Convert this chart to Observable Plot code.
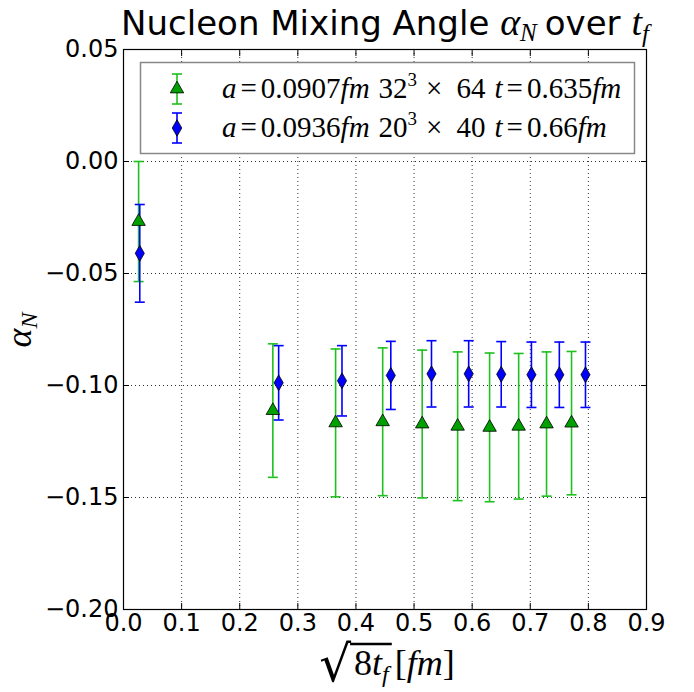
<!DOCTYPE html>
<html>
<head>
<meta charset="utf-8">
<script src="https://cdn.jsdelivr.net/npm/d3@7"></script>
<script src="https://cdn.jsdelivr.net/npm/@observablehq/plot@0.6"></script>
<style>
  html, body { margin: 0; padding: 0; background: #fff; }
  #chart { width: 694px; height: 692px; }
</style>
</head>
<body>
<div id="chart"></div>
<script>
// ---- data ----
const seriesNames = ["a=0.0907 fm 32³×64 t=0.635 fm", "a=0.0936 fm 20³×40 t=0.66 fm"];

const greenX   = [0.026, 0.257, 0.365, 0.446, 0.514, 0.575, 0.630, 0.680, 0.728, 0.771];
const greenY   = [-0.0268, -0.1112, -0.1167, -0.1162, -0.1172, -0.1182, -0.1187, -0.1182, -0.1172, -0.1168];
const greenErr = [0.0268, 0.0298, 0.0330, 0.0330, 0.0330, 0.0332, 0.0332, 0.0325, 0.0322, 0.0320];

const blueX   = [0.028, 0.267, 0.376, 0.460, 0.530, 0.594, 0.650, 0.702, 0.750, 0.795];
const blueY   = [-0.0410, -0.0988, -0.0979, -0.0955, -0.0948, -0.0948, -0.0950, -0.0952, -0.0952, -0.0952];
const blueErr = [0.0218, 0.0166, 0.0157, 0.0152, 0.0148, 0.0148, 0.0146, 0.0146, 0.0146, 0.0146];

const xTicks = [0.0, 0.1, 0.2, 0.3, 0.4, 0.5, 0.6, 0.7, 0.8, 0.9];
const yTicks = [0.05, 0.00, -0.05, -0.10, -0.15, -0.20];

// ---- build tables ----
const green = greenX.map((x, i) => ({x, y: greenY[i], lo: greenY[i] - greenErr[i], hi: greenY[i] + greenErr[i]}));
const blue  = blueX.map((x, i) => ({x, y: blueY[i], lo: blueY[i] - blueErr[i], hi: blueY[i] + blueErr[i]}));

const GREEN_BAR = "#1fc01f", GREEN_FILL = "#00a000";
const BLUE_BAR = "#0000ff", BLUE_FILL = "#0000ff";

const capSymbol = {draw(ctx, size) { ctx.moveTo(-5, 0); ctx.lineTo(5, 0); }};
const fmt = d3.format(".2f");
const fmtX = d3.format(".1f");

const plot = Plot.plot({
  width: 694,
  height: 692,
  marginLeft: 123,
  marginRight: 48,
  marginTop: 49,
  marginBottom: 83,
  style: {fontFamily: "DejaVu Sans", fontSize: "24px", background: "#fff", overflow: "visible"},
  x: {domain: [0, 0.9], ticks: xTicks, tickFormat: fmtX, label: null},
  y: {domain: [-0.2, 0.05], ticks: yTicks, tickFormat: fmt, label: null},
  marks: [
    Plot.gridX(xTicks, {stroke: "#000", strokeOpacity: 0.8, strokeDasharray: "1,3", strokeWidth: 1}),
    Plot.gridY(yTicks, {stroke: "#000", strokeOpacity: 0.8, strokeDasharray: "1,3", strokeWidth: 1}),
    // error bars
    Plot.ruleX(green, {x: "x", y1: "lo", y2: "hi", stroke: GREEN_BAR, strokeWidth: 1.6}),
    Plot.dot(green, {x: "x", y: "lo", symbol: capSymbol, stroke: GREEN_BAR, strokeWidth: 1.6, r: 5}),
    Plot.dot(green, {x: "x", y: "hi", symbol: capSymbol, stroke: GREEN_BAR, strokeWidth: 1.6, r: 5}),
    Plot.ruleX(blue, {x: "x", y1: "lo", y2: "hi", stroke: BLUE_BAR, strokeWidth: 1.6}),
    Plot.dot(blue, {x: "x", y: "lo", symbol: capSymbol, stroke: BLUE_BAR, strokeWidth: 1.6, r: 5}),
    Plot.dot(blue, {x: "x", y: "hi", symbol: capSymbol, stroke: BLUE_BAR, strokeWidth: 1.6, r: 5}),
    // markers
    Plot.dot(green, {x: "x", y: "y", symbol: "triangle", fill: GREEN_FILL, stroke: "#000", strokeWidth: 0.8, r: 5}),
    Plot.dot(blue, {x: "x", y: "y", symbol: "diamond", fill: BLUE_FILL, stroke: "#000", strokeWidth: 0.8, r: 4.8}),
    // axes: labels
    Plot.axisX(xTicks, {anchor: "bottom", tickSize: 0, tickPadding: 4, fill: "#000", tickFormat: fmtX, label: null}),
    Plot.axisY(yTicks, {anchor: "left", tickSize: 0, tickPadding: 5, fill: "#000", tickFormat: fmt, label: null}),
    // inward ticks on all sides
    Plot.axisX(xTicks, {anchor: "bottom", tickSize: -6, text: null, stroke: "#000", label: null}),
    Plot.axisX(xTicks, {anchor: "top", tickSize: -6, text: null, stroke: "#000", label: null}),
    Plot.axisY(yTicks, {anchor: "left", tickSize: -6, text: null, stroke: "#000", label: null}),
    Plot.axisY(yTicks, {anchor: "right", tickSize: -6, text: null, stroke: "#000", label: null}),
    Plot.frame({stroke: "#000", strokeWidth: 1.2})
  ]
});

document.getElementById("chart").appendChild(plot);

// ---- titles, axis labels and legend (text) ----
const svg = d3.select(plot);
const serif = "'Liberation Serif', 'DejaVu Serif', serif";
const sans = "DejaVu Sans";

// lays out a run of text pieces left to right, measuring each one
function run(parent, x, y, parts, anchor) {
  const g = parent.append("g");
  let cx = 0;
  parts.forEach(p => {
    const t = g.append("text")
      .attr("x", cx + (p.dx || 0)).attr("y", p.dy || 0)
      .attr("text-anchor", "start")
      .attr("font-family", p.family || serif)
      .attr("font-style", p.italic ? "italic" : "normal")
      .attr("font-size", p.size)
      .attr("fill", "#000")
      .text(p.t);
    cx += t.node().getComputedTextLength() + (p.dx || 0) + (p.after || 0);
  });
  const off = anchor === "middle" ? -cx / 2 : 0;
  g.attr("transform", `translate(${x + off},${y})`);
  return {g, width: cx, start: x + off};
}

// Title
run(svg, 385, 35, [
  {t: "Nucleon Mixing Angle ", family: sans, size: 34},
  {t: "α", italic: true, size: 38},
  {t: "N", italic: true, size: 25, dy: 6, after: 8},
  {t: "over ", family: sans, size: 34},
  {t: "t", italic: true, size: 38},
  {t: "f", italic: true, size: 25, dy: 7}
], "middle");

// Y label (rotated)
const ylab = svg.append("g").attr("transform", "translate(31,330) rotate(-90)");
run(ylab, 0, 0, [
  {t: "α", italic: true, size: 36},
  {t: "N", italic: true, size: 24, dy: 6}
], "middle");

// X label  √(8 t_f) [fm]
const xParts = [
  {t: "√", size: 50, family: "DejaVu Sans", dy: 6},
  {t: "8", size: 36, dx: 3},
  {t: "t", italic: true, size: 36},
  {t: "f", italic: true, size: 24, dy: 7, after: 6},
  {t: "[", size: 36},
  {t: "fm", italic: true, size: 36},
  {t: "]", size: 36}
];
const xl = run(svg, 387, 675, xParts, "middle");
// overline of the radical: from after the radical sign to after the subscript
{
  const texts = xl.g.selectAll("text").nodes();
  const rootEnd = +texts[0].getAttribute("x") + texts[0].getComputedTextLength();
  const subEnd = +texts[3].getAttribute("x") + texts[3].getComputedTextLength() + 3;
  xl.g.append("line").attr("x1", rootEnd - 1).attr("x2", subEnd)
    .attr("y1", -31).attr("y2", -31).attr("stroke", "#000").attr("stroke-width", 2.4);
}

// Legend
const lg = svg.append("g");
lg.append("rect").attr("x", 140.5).attr("y", 62.5).attr("width", 494).attr("height", 91)
  .attr("fill", "#fff").attr("stroke", "#888").attr("stroke-width", 1.5);

const legendItems = [
  {bar: GREEN_BAR, fill: GREEN_FILL, sym: d3.symbolTriangle, y: 89,
   a: "0.0907", L: "32", T: "64", t: "0.635"},
  {bar: BLUE_BAR, fill: BLUE_FILL, sym: d3.symbolDiamond, y: 128,
   a: "0.0936", L: "20", T: "40", t: "0.66"}
];
legendItems.forEach(it => {
  const cx = 177;
  lg.append("line").attr("x1", cx).attr("x2", cx).attr("y1", it.y - 15).attr("y2", it.y + 15)
    .attr("stroke", it.bar).attr("stroke-width", 1.6);
  [it.y - 15, it.y + 15].forEach(yy => lg.append("line").attr("x1", cx - 5).attr("x2", cx + 5)
    .attr("y1", yy).attr("y2", yy).attr("stroke", it.bar).attr("stroke-width", 1.6));
  lg.append("path").attr("transform", `translate(${cx},${it.y})`)
    .attr("d", d3.symbol(it.sym, Math.PI * 25)())
    .attr("fill", it.fill).attr("stroke", "#000").attr("stroke-width", 0.8);
  const S = 29;
  run(lg, 222, it.y + 9, [
    {t: "a", italic: true, size: S, after: 4},
    {t: "=", size: S, after: 4},
    {t: it.a, size: S},
    {t: "fm", italic: true, size: S, after: 9},
    {t: it.L, size: S},
    {t: "3", size: 19, dy: -12, after: 9},
    {t: "×", size: S, after: 14},
    {t: it.T, size: S, after: 9},
    {t: "t", italic: true, size: S, after: 4},
    {t: "=", size: S, after: 4},
    {t: it.t, size: S},
    {t: "fm", italic: true, size: S}
  ], "start");
});
</script>
</body>
</html>
